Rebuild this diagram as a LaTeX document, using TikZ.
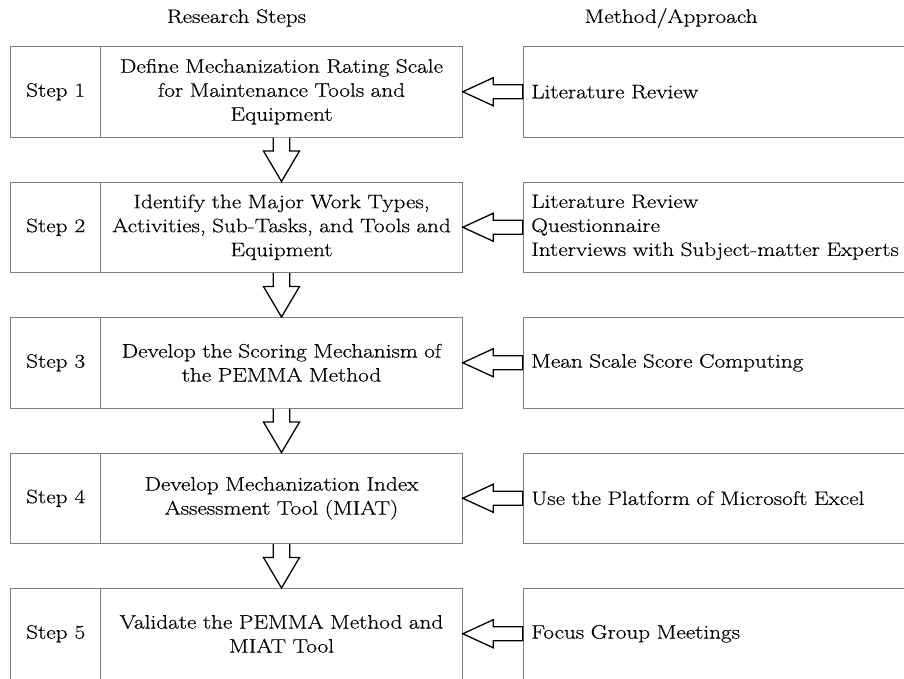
\documentclass[tikz,border=0pt]{standalone}
\usepackage{fontspec}
\setmainfont{Latin Modern Roman}[FakeStretch=1.19,FakeBold=0.45]
\usetikzlibrary{calc}
\definecolor{boxgray}{HTML}{808080}
\newcommand{\fsz}{\fontsize{19.5pt}{24pt}\selectfont}
\begin{document}
\begin{tikzpicture}[x=1pt,y=-1pt,
  box/.style={draw=boxgray, line width=1pt, inner sep=0pt, minimum height=90.5pt, font=\fsz},
  lab/.style={box, minimum width=90pt},
  mainbox/.style={box, minimum width=361.6pt, text width=355pt, align=center},
  meth/.style={box, text width=384pt, inner xsep=8pt, align=left, anchor=west},
  arr/.style={draw=black, line width=1.3pt, fill=white, line join=miter},
  title/.style={font=\fsz, inner sep=0pt}]
\clip (0,0) rectangle (904,678);
\fill[white] (0,0) rectangle (904,678);

\node[title] (t1) at (236.5,18) {Research Steps};
\node[title] (t2) at (671,18) {Method/Approach};

\foreach \i/\cy in {1/91.75,2/227.25,3/362.75,4/498.25,5/633.75}{
  \node[lab] (s\i) at (55.7,\cy) {Step \i};
}
\node[mainbox] (m1) at (281.5,91.75) {Define Mechanization Rating Scale\\for Maintenance Tools and\\Equipment};
\node[mainbox] (m2) at (281.5,227.25) {Identify the Major Work Types,\\Activities, Sub-Tasks, and Tools and\\Equipment};
\node[mainbox] (m3) at (281.5,362.75) {Develop the Scoring Mechanism of\\the PEMMA Method};
\node[mainbox] (m4) at (281.5,498.25) {Develop Mechanization Index\\Assessment Tool (MIAT)};
\node[mainbox] (m5) at (281.5,633.75) {Validate the PEMMA Method and\\MIAT Tool};

\node[meth] (r1) at (522.7,91.75) {Literature Review};
\node[meth] (r2) at (522.7,227.25) {Literature Review\\Questionnaire\\Interviews with Subject-matter Experts};
\node[meth] (r3) at (522.7,362.75) {Mean Scale Score Computing};
\node[meth] (r4) at (522.7,498.25) {Use the Platform of Microsoft Excel};
\node[meth] (r5) at (522.7,633.75) {Focus Group Meetings};

\foreach \i in {1,...,5}{
  \draw[arr] ($(r\i.west)+(0,-7)$) -- ($(m\i.east)+(30.4,-7)$) -- ($(m\i.east)+(30.4,-14)$)
    -- (m\i.east) -- ($(m\i.east)+(30.4,14)$) -- ($(m\i.east)+(30.4,7)$) -- ($(r\i.west)+(0,7)$) -- cycle;
}
\foreach \a/\b in {1/2,2/3,3/4,4/5}{
  \draw[arr] ($(m\a.south)+(-8.3,0)$) -- ($(m\b.north)+(-8.3,-30.5)$) -- ($(m\b.north)+(-18,-30.5)$)
    -- (m\b.north) -- ($(m\b.north)+(18,-30.5)$) -- ($(m\b.north)+(8.3,-30.5)$) -- ($(m\a.south)+(8.3,0)$);
}
\end{tikzpicture}
\end{document}
